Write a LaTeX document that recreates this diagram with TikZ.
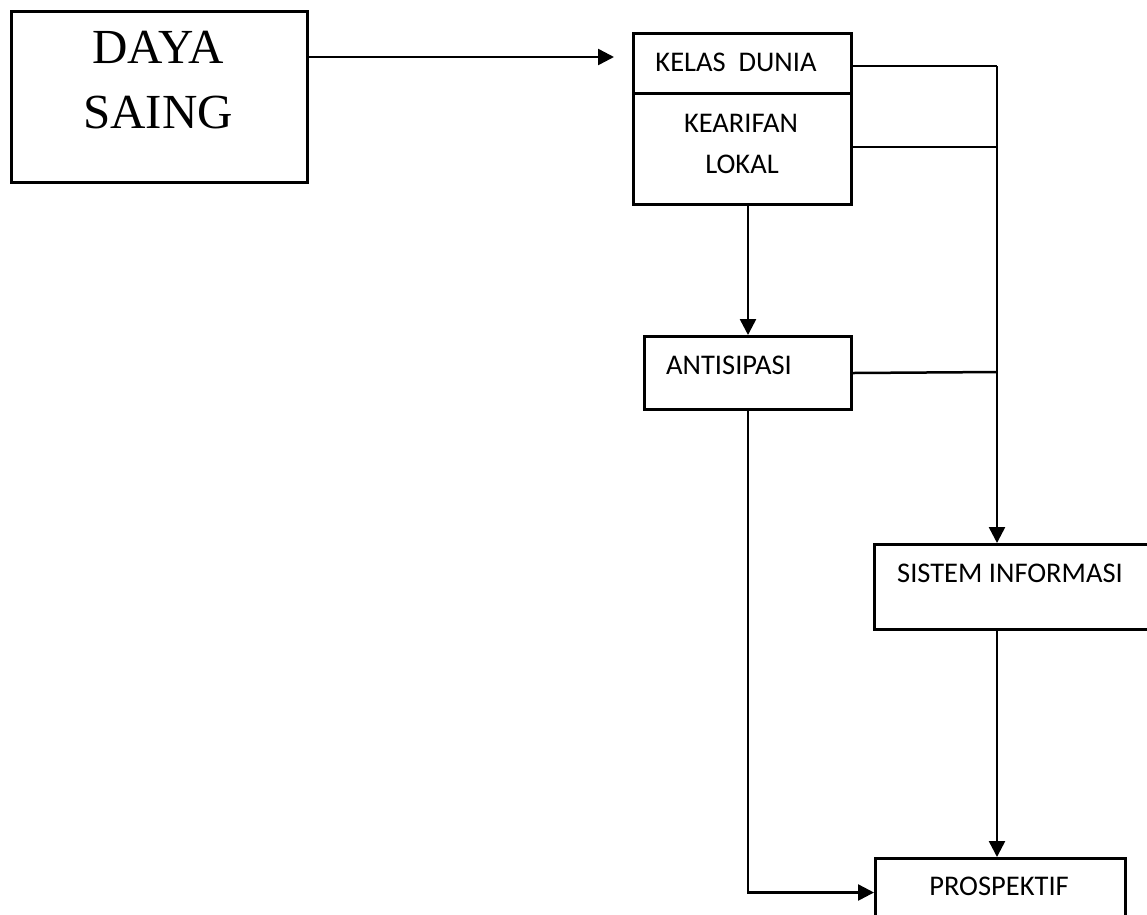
\documentclass[tikz,border=0pt]{standalone}
\usepackage{fontspec}
\setmainfont{Carlito}
\newfontfamily\dayafont{Liberation Serif}
\usetikzlibrary{arrows.meta}

\tikzset{
  box/.style={draw, line width=3pt, anchor=north west, inner sep=0pt},
  txt/.style={anchor=base, inner sep=0pt},
  arr/.style={-{Triangle[length=16pt,width=16pt]}},
}

\begin{document}
\begin{tikzpicture}[x=1pt,y=1pt,line width=2.5pt,font=\fontsize{28.5}{34}\selectfont]
\clip (0,0) rectangle (1147,-914);

\node[box, minimum width=296pt, minimum height=171pt] (daya) at (10,-10) {};
\node[txt, font=\dayafont\fontsize{49}{58}\selectfont] (dayaA) at (158,-63) {DAYA};
\node[txt, font=\dayafont\fontsize{49}{58}\selectfont] (dayaB) at (158,-128) {SAING};

\node[box, minimum width=218pt, minimum height=171pt] (kelas) at (632,-32) {};
\draw[line width=3pt] (kelas.west |- 0,-93) -- (kelas.east |- 0,-93);
\node[txt] (kelasA) at (736,-71) {KELAS\ \ DUNIA};
\node[txt] (kelasB) at (741,-132) {KEARIFAN};
\node[txt] (kelasC) at (742,-173) {LOKAL};

\node[box, minimum width=207pt, minimum height=73pt] (antisipasi) at (643,-335) {};
\node[txt] (antisipasiA) at (729,-374) {ANTISIPASI};

\node[box, minimum width=280pt, minimum height=85pt] (sistem) at (873,-543) {};
\node[txt] (sistemA) at (1010,-582) {SISTEM INFORMASI};

\node[box, minimum width=250pt, minimum height=68pt] (prospektif) at (874,-857) {};
\node[txt] (prospektifA) at (999,-895) {PROSPEKTIF};

\coordinate (busTop) at (997,-66);
\coordinate (busMid) at (997,-147);
\coordinate (busLow) at (997,-372);

\draw[arr, shorten >=18pt] ([yshift=-47pt]daya.north east) coordinate (dayaOut) -- (dayaOut -| kelas.west);
\draw (kelas.east |- busTop) -- (busTop);
\draw (kelas.east |- busMid) -- (busMid);
\draw (antisipasi.east |- 0,-373) -- (busLow);
\draw[arr] (busTop) -- (busTop |- sistem.north);
\draw[arr] (antisipasi.north |- kelas.south) -- (antisipasi.north);
\draw[arr] (busTop |- sistem.south) -- (busTop |- prospektif.north);
\draw[arr] (antisipasi.south) -- (antisipasi.south |- prospektif.west) -- (prospektif.west);

\end{tikzpicture}
\end{document}
